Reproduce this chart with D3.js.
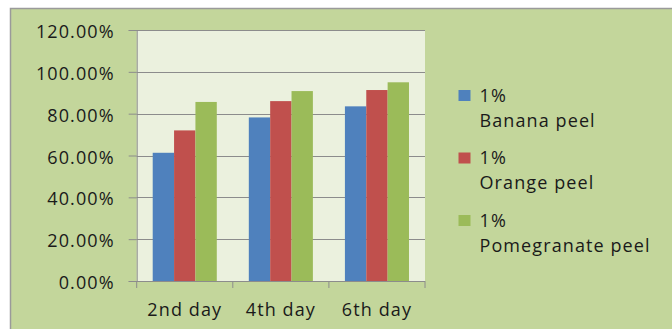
<!DOCTYPE html>
<html>
<head>
<meta charset="utf-8">
<script src="https://cdn.jsdelivr.net/npm/d3@7"></script>
<style>
  html, body { margin: 0; padding: 0; background: #ffffff; }
  svg { display: block; }
  text { font-family: "Open Sans", "DejaVu Sans", sans-serif; fill: #1a1a1a; }
</style>
</head>
<body>
<svg id="chart" width="672" height="329"></svg>
<script>
// Days of treatment and the three peel extracts compared
const categories = ["2nd day", "4th day", "6th day"];
const seriesNames = [["1%", "Banana peel"], ["1%", "Orange peel"], ["1%", "Pomegranate peel"]];
const bananaPeel = [0.613, 0.782, 0.835];
const orangePeel = [0.720, 0.860, 0.913];
const pomegranatePeel = [0.856, 0.908, 0.950];
const yTicks = [0, 0.2, 0.4, 0.6, 0.8, 1.0, 1.2];
const seriesColors = ["#4F81BD", "#C0504D", "#9BBB59"];

const series = [bananaPeel, orangePeel, pomegranatePeel];

const svg = d3.select("#chart");
const W = 672, H = 329;
const fontSize = "18px";
const spacing = "1.1px";

// Chart frame
svg.append("rect")
  .attr("x", 10.5).attr("y", 8.5)
  .attr("width", W).attr("height", H)
  .attr("fill", "#C3D69B")
  .attr("stroke", "#9a9a9a").attr("stroke-width", 1.5);

const plot = { left: 136.7, right: 425, top: 30, bottom: 281 };

const x0 = d3.scaleBand()
  .domain(categories)
  .range([plot.left, plot.right])
  .paddingInner(0).paddingOuter(0);

// Bars within a cluster touch; clusters are separated by 150% of a bar width
const x1 = d3.scaleBand()
  .domain(d3.range(series.length))
  .range([0, x0.bandwidth()])
  .paddingOuter(0.75)
  .paddingInner(0);

const y = d3.scaleLinear().domain([0, 1.2]).range([plot.bottom, plot.top]);

// Plot area
svg.append("rect")
  .attr("x", plot.left).attr("y", plot.top)
  .attr("width", plot.right - plot.left).attr("height", plot.bottom - plot.top)
  .attr("fill", "#EBF1DE");

// Horizontal gridlines
svg.append("g")
  .selectAll("line")
  .data(yTicks.filter(d => d > 0))
  .join("line")
  .attr("x1", plot.left).attr("x2", plot.right)
  .attr("y1", d => Math.round(y(d)) + 0.5).attr("y2", d => Math.round(y(d)) + 0.5)
  .attr("stroke", "#8c8c8c").attr("stroke-width", 1);

// Bars
const groups = svg.append("g")
  .selectAll("g")
  .data(categories)
  .join("g")
  .attr("transform", d => `translate(${x0(d)},0)`);

groups.selectAll("rect")
  .data((d, i) => series.map((s, k) => ({ k, v: s[i] })))
  .join("rect")
  .attr("x", d => x1(d.k))
  .attr("width", x1.bandwidth())
  .attr("y", d => y(d.v))
  .attr("height", d => y(0) - y(d.v))
  .attr("fill", d => seriesColors[d.k]);

// Y axis
const yAxis = d3.axisLeft(y)
  .tickValues(yTicks)
  .tickSize(8)
  .tickPadding(14)
  .tickFormat(d => (d * 100).toFixed(2) + "%");

const gy = svg.append("g")
  .attr("transform", `translate(${plot.left},0)`)
  .call(yAxis);
gy.select(".domain").attr("stroke", "#8c8c8c");
gy.selectAll(".tick line").attr("stroke", "#8c8c8c");
gy.selectAll(".tick text")
  .attr("dy", "0.42em")
  .style("font-size", fontSize)
  .style("letter-spacing", spacing)
  .attr("fill", "#1a1a1a");

// X axis with tick marks at cluster boundaries
const xAxisLine = svg.append("g");
xAxisLine.append("line")
  .attr("x1", plot.left).attr("x2", plot.right)
  .attr("y1", plot.bottom + 0.5).attr("y2", plot.bottom + 0.5)
  .attr("stroke", "#8c8c8c");
const bounds = categories.map(c => x0(c)).concat([x0(categories[categories.length - 1]) + x0.bandwidth()]);
xAxisLine.selectAll("line.tk")
  .data(bounds)
  .join("line")
  .attr("class", "tk")
  .attr("x1", d => d).attr("x2", d => d)
  .attr("y1", plot.bottom).attr("y2", plot.bottom + 7)
  .attr("stroke", "#8c8c8c");
xAxisLine.selectAll("text")
  .data(categories)
  .join("text")
  .attr("x", d => x0(d) + x0.bandwidth() / 2)
  .attr("y", 315.5)
  .attr("text-anchor", "middle")
  .style("font-size", fontSize)
  .style("letter-spacing", spacing)
  .text(d => d);

// Legend
const legend = svg.append("g").attr("transform", "translate(458.5,90)");
const items = legend.selectAll("g")
  .data(seriesNames)
  .join("g")
  .attr("transform", (d, i) => `translate(0,${i * 62.5})`);
items.append("rect")
  .attr("width", 12).attr("height", 11)
  .attr("fill", (d, i) => seriesColors[i]);
items.append("text")
  .attr("x", 21).attr("y", 11.7)
  .style("font-size", fontSize)
  .style("letter-spacing", spacing)
  .text(d => d[0]);
items.append("text")
  .attr("x", 21).attr("y", 36.7)
  .style("font-size", fontSize)
  .style("letter-spacing", spacing)
  .text(d => d[1]);
</script>
</body>
</html>
